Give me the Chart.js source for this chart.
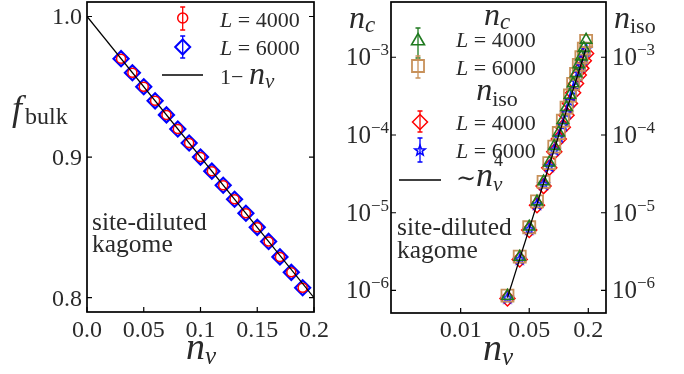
<!DOCTYPE html>
<html><head><meta charset="utf-8">
<script src="https://cdn.jsdelivr.net/npm/chart.js@4"></script>
<style>
html,body{margin:0;padding:0;background:#fff;}
#wrap{position:relative;width:684px;height:374px;overflow:hidden;}
canvas{position:absolute;top:0;}
</style></head><body>
<div id="wrap">
<canvas id="c1" width="340" height="374" style="left:0"></canvas>
<canvas id="c2" width="344" height="374" style="left:340px"></canvas>
</div>
<script>
// ---------------- data ----------------
const nv = [0.03,0.04,0.05,0.06,0.07,0.08,0.09,0.10,0.11,0.12,0.13,0.14,0.15,0.16,0.17,0.18,0.19];
const fbulkL4000 = [0.970,0.960,0.950,0.940,0.930,0.920,0.910,0.900,0.890,0.880,0.870,0.860,0.850,0.840,0.829,0.818,0.807];
const fbulkL6000 = [0.970,0.960,0.950,0.940,0.930,0.920,0.910,0.900,0.890,0.880,0.870,0.860,0.850,0.840,0.829,0.818,0.807];
const lineX = [0.0, 0.2];
const lineY = [1.0, 0.8];
const ncL4000 = [8.5e-7,2.7e-6,6.6e-6,1.39e-5,2.52e-5,4.4e-5,7.2e-5,1.07e-4,1.55e-4,2.27e-4,3.27e-4,4.6e-4,6.2e-4,8.1e-4,1.02e-3,1.31e-3,1.67e-3];
const ncL6000 = [8.6e-7,2.72e-6,6.5e-6,1.40e-5,2.5e-5,4.35e-5,7.1e-5,1.06e-4,1.53e-4,2.25e-4,3.22e-4,4.55e-4,6.1e-4,8.0e-4,1.0e-3,1.29e-3,1.62e-3];
const nisoL4000 = [7.9e-7,2.5e-6,6.0e-6,1.25e-5,2.2e-5,3.8e-5,6.1e-5,8.9e-5,1.26e-4,1.8e-4,2.55e-4,3.5e-4,4.6e-4,5.9e-4,7.2e-4,9.0e-4,1.12e-3];
const nisoL6000 = [8.1e-7,2.55e-6,6.2e-6,1.3e-5,2.35e-5,4.0e-5,6.5e-5,9.5e-5,1.35e-4,1.95e-4,2.75e-4,3.8e-4,5.0e-4,6.5e-4,8.0e-4,1.02e-3,1.3e-3];
const fitX = [0.03, 0.19];
const fitY = [8.1e-7, 1.3e-3];
const leftXTicks = [0.0,0.05,0.1,0.15,0.2];
const leftXLabels = ['0.0','0.05','0.1','0.15','0.2'];
const leftYTicks = [0.8,0.9,1.0];
const leftYLabels = ['0.8','0.9','1.0'];
const rightXTicks = [0.01,0.05,0.2];
const rightXLabels = ['0.01','0.05','0.2'];
const rightYTicks = [1e-6,1e-5,1e-4,1e-3];
const rightYExp = ['−6','−5','−4','−3'];

const SERIF = '"Liberation Serif","DejaVu Serif",serif';
const F = (s, it) => (it ? 'italic ' : '') + s + 'px ' + SERIF;
const TXT = '#2a2a2a';
const GREEN = '#1f7a1f', TAN = '#c8915a';

function pts(xs, ys){ return xs.map((x,i)=>({x:x, y:ys[i]})); }
function runs(ctx, x, y, parts, align){
  let w = 0;
  parts.forEach(p => { ctx.font = p[1]; p.w = ctx.measureText(p[0]).width; w += p.w + (p[3]||0); });
  let cx = align==='center' ? x - w/2 : (align==='right' ? x - w : x);
  ctx.textAlign = 'left'; ctx.textBaseline = 'alphabetic';
  parts.forEach(p => { ctx.font = p[1]; ctx.fillText(p[0], cx, y + (p[2]||0)); cx += p.w + (p[3]||0); });
}
function errbar(ctx, x, y1, y2, color){
  ctx.save(); ctx.strokeStyle = color; ctx.lineWidth = 1.3;
  ctx.beginPath(); ctx.moveTo(x, y1); ctx.lineTo(x, y2);
  ctx.moveTo(x-2.5, y1); ctx.lineTo(x+2.5, y1);
  ctx.moveTo(x-2.5, y2); ctx.lineTo(x+2.5, y2); ctx.stroke(); ctx.restore();
}
function marker(ctx, style, r, x, y, color, lw){
  ctx.save(); ctx.strokeStyle = color; ctx.fillStyle = 'rgba(0,0,0,0)'; ctx.lineWidth = lw;
  Chart.helpers.drawPoint(ctx, {pointStyle: style, radius: r, rotation: 0, borderWidth: lw}, x, y);
  ctx.restore();
}
function frame(ctx, a){
  ctx.save(); ctx.strokeStyle = '#000'; ctx.lineWidth = 1.7;
  ctx.strokeRect(a.left, a.top, a.right - a.left, a.bottom - a.top); ctx.restore();
}
// five-pointed star outline used as a point style
function starImage(r, color, lw){
  const s = Math.ceil(2*r + 2*lw + 2);
  const c = document.createElement('canvas'); c.width = s; c.height = s;
  const g = c.getContext('2d'); g.strokeStyle = color; g.lineWidth = lw; g.lineJoin = 'miter';
  g.beginPath();
  for (let k = 0; k < 10; k++){
    const ang = -Math.PI/2 + k*Math.PI/5, rr = (k % 2 === 0) ? r : r*0.42;
    const px = s/2 + rr*Math.cos(ang), py = s/2 + rr*Math.sin(ang) + 0.6;
    k === 0 ? g.moveTo(px, py) : g.lineTo(px, py);
  }
  g.closePath(); g.stroke();
  return c;
}
const STAR = starImage(5.5, 'blue', 1.5);

// ---------------- left chart ----------------
const leftDecor = {
  id: 'leftDecor',
  afterDraw(chart){
    const ctx = chart.ctx, a = chart.chartArea, sx = chart.scales.x, sy = chart.scales.y;
    ctx.save();
    frame(ctx, a);
    ctx.strokeStyle = '#000'; ctx.lineWidth = 1.2;
    ctx.beginPath();
    leftXTicks.forEach(v => { const px = sx.getPixelForValue(v); ctx.moveTo(px, a.bottom); ctx.lineTo(px, a.bottom - 5); });
    leftYTicks.forEach(v => { const py = sy.getPixelForValue(v); ctx.moveTo(a.left, py); ctx.lineTo(a.left + 5, py); ctx.moveTo(a.right, py); ctx.lineTo(a.right - 5, py); });
    ctx.stroke();
    ctx.fillStyle = TXT;
    leftXTicks.forEach((v,i) => runs(ctx, sx.getPixelForValue(v), 337, [[leftXLabels[i], F(24)]], 'center'));
    leftYTicks.forEach((v,i) => runs(ctx, 82, sy.getPixelForValue(v) + 8, [[leftYLabels[i], F(24)]], 'right'));
    // axis labels
    runs(ctx, 201, 359, [['n', F(38, true)], ['v', F(25, true), 5]], 'center');
    runs(ctx, 12, 120, [['f', F(36, true), 0, 3], ['bulk', F(24), 4]], 'left');
    // legend
    errbar(ctx, 182.7, 7, 30, 'red');
    marker(ctx, 'circle', 5, 182.7, 18, 'red', 1.5);
    runs(ctx, 220, 27, [['L', F(22, true)], [' = 4000', F(22)]], 'left');
    errbar(ctx, 182.7, 36, 58, 'blue');
    marker(ctx, 'rectRot', 7.5, 182.7, 47, 'blue', 2);
    runs(ctx, 220, 55, [['L', F(22, true)], [' = 6000', F(22)]], 'left');
    ctx.strokeStyle = '#000'; ctx.lineWidth = 1.4;
    ctx.beginPath(); ctx.moveTo(162, 75); ctx.lineTo(203, 75); ctx.stroke();
    runs(ctx, 220, 84, [['1− ', F(22)], ['n', F(32, true)], ['v', F(21, true), 4]], 'left');
    // annotation
    runs(ctx, 92, 230, [['site-diluted', F(25.5)]], 'left');
    runs(ctx, 92, 252, [['kagome', F(25.5)]], 'left');
    ctx.restore();
  }
};

new Chart(document.getElementById('c1'), {
  type: 'scatter',
  data: { datasets: [
    { data: pts(lineX, lineY), showLine: true, borderColor: '#000', borderWidth: 1.3, pointRadius: 0, fill: false },
    { data: pts(nv, fbulkL4000), pointStyle: 'circle', pointRadius: 4.5, borderColor: 'red', borderWidth: 1.5, backgroundColor: 'rgba(0,0,0,0)' },
    { data: pts(nv, fbulkL6000), pointStyle: 'rectRot', pointRadius: 7.5, borderColor: 'blue', borderWidth: 2.2, backgroundColor: 'rgba(0,0,0,0)' }
  ]},
  options: {
    responsive: false, animation: false, events: [],
    layout: { autoPadding: false, padding: { left: 87, right: 26, top: 2, bottom: 62 } },
    scales: {
      x: { type: 'linear', min: 0, max: 0.2, display: false },
      y: { type: 'linear', min: 0.7898, max: 1.0103, display: false }
    },
    plugins: { legend: { display: false }, tooltip: { enabled: false } }
  },
  plugins: [leftDecor]
});

// ---------------- right chart ----------------
const rightDecor = {
  id: 'rightDecor',
  afterDraw(chart){
    const ctx = chart.ctx, a = chart.chartArea, sx = chart.scales.x, sy = chart.scales.y;
    ctx.save();
    frame(ctx, a);
    ctx.strokeStyle = '#000'; ctx.lineWidth = 1.2;
    ctx.beginPath();
    rightXTicks.forEach(v => { const px = sx.getPixelForValue(v); ctx.moveTo(px, a.bottom); ctx.lineTo(px, a.bottom - 5); });
    rightYTicks.forEach(v => { const py = sy.getPixelForValue(v); ctx.moveTo(a.left, py); ctx.lineTo(a.left + 5, py); ctx.moveTo(a.right, py); ctx.lineTo(a.right - 5, py); });
    ctx.stroke();
    ctx.fillStyle = TXT;
    rightXTicks.forEach((v,i) => runs(ctx, sx.getPixelForValue(v), 337, [[rightXLabels[i], F(24)]], 'center'));
    rightYTicks.forEach((v,i) => {
      const py = sy.getPixelForValue(v);
      runs(ctx, a.left - 2, py + 8, [['10', F(25)], [rightYExp[i], F(17), -10]], 'right');
      runs(ctx, a.right + 6, py + 8, [['10', F(25)], [rightYExp[i], F(17), -10]], 'left');
    });
    runs(ctx, 158, 360, [['n', F(38, true)], ['v', F(25, true), 5]], 'center');
    runs(ctx, 9, 28, [['n', F(32, true)], ['c', F(23, true), 4]], 'left');
    runs(ctx, 274, 28, [['n', F(32, true)], ['iso', F(22), 5]], 'left');
    // legend
    runs(ctx, 157, 25, [['n', F(32, true)], ['c', F(23, true), 4]], 'center');
    errbar(ctx, 78, 28, 58, GREEN);
    marker(ctx, 'triangle', 7.5, 78, 41, GREEN, 1.6);
    runs(ctx, 116, 47, [['L', F(22, true)], [' = 4000', F(22)]], 'left');
    errbar(ctx, 78, 56, 78, TAN);
    marker(ctx, 'rect', 8.5, 78, 66, TAN, 1.8);
    runs(ctx, 116, 75, [['L', F(22, true)], [' = 6000', F(22)]], 'left');
    runs(ctx, 157, 100, [['n', F(32, true)], ['iso', F(22), 6]], 'center');
    errbar(ctx, 80, 111, 132, 'red');
    marker(ctx, 'rectRot', 7.5, 80, 122, 'red', 1.5);
    runs(ctx, 116, 130, [['L', F(22, true)], [' = 4000', F(22)]], 'left');
    errbar(ctx, 80, 138, 162, 'blue');
    ctx.drawImage(STAR, 80 - STAR.width/2, 150 - STAR.height/2);
    runs(ctx, 116, 158, [['L', F(22, true)], [' = 6000', F(22)]], 'left');
    ctx.strokeStyle = '#000'; ctx.lineWidth = 1.4;
    ctx.beginPath(); ctx.moveTo(59, 180); ctx.lineTo(101, 180); ctx.stroke();
    ctx.fillStyle = TXT;
    runs(ctx, 116, 186, [['∼', F(24)], ['n', F(34, true)]], 'left');
    ctx.font = F(24); const tw = ctx.measureText('∼').width; ctx.font = F(34, true); const nw = ctx.measureText('n').width;
    runs(ctx, 116 + tw + nw, 191, [['v', F(21, true)]], 'left');
    runs(ctx, 116 + tw + nw + 1, 166, [['4', F(18)]], 'left');
    runs(ctx, 57, 235, [['site-diluted', F(25.5)]], 'left');
    runs(ctx, 57, 258, [['kagome', F(25.5)]], 'left');
    ctx.restore();
  }
};

new Chart(document.getElementById('c2'), {
  type: 'scatter',
  data: { datasets: [
    { data: pts(fitX, fitY), showLine: true, borderColor: '#000', borderWidth: 1.3, pointRadius: 0, fill: false },
    { data: pts(nv, ncL4000), pointStyle: 'triangle', pointRadius: 6.5, borderColor: GREEN, borderWidth: 1.6, backgroundColor: 'rgba(0,0,0,0)' },
    { data: pts(nv, ncL6000), pointStyle: 'rect', pointRadius: 8.5, borderColor: TAN, borderWidth: 1.8, backgroundColor: 'rgba(0,0,0,0)' },
    { data: pts(nv, nisoL6000), pointStyle: STAR, pointRadius: 5, borderColor: 'blue', borderWidth: 1.5, backgroundColor: 'rgba(0,0,0,0)' },
    { data: pts(nv, nisoL4000), pointStyle: 'rectRot', pointRadius: 7.5, borderColor: 'red', borderWidth: 1.5, backgroundColor: 'rgba(0,0,0,0)' }
  ]},
  options: {
    responsive: false, animation: false, events: [],
    layout: { autoPadding: false, padding: { left: 51, right: 78, top: 2, bottom: 61 } },
    scales: {
      x: { type: 'logarithmic', min: 0.00195, max: 0.303, display: false },
      y: { type: 'logarithmic', min: 5.13e-7, max: 5.14e-3, display: false }
    },
    plugins: { legend: { display: false }, tooltip: { enabled: false } }
  },
  plugins: [rightDecor]
});
</script>
</body></html>
